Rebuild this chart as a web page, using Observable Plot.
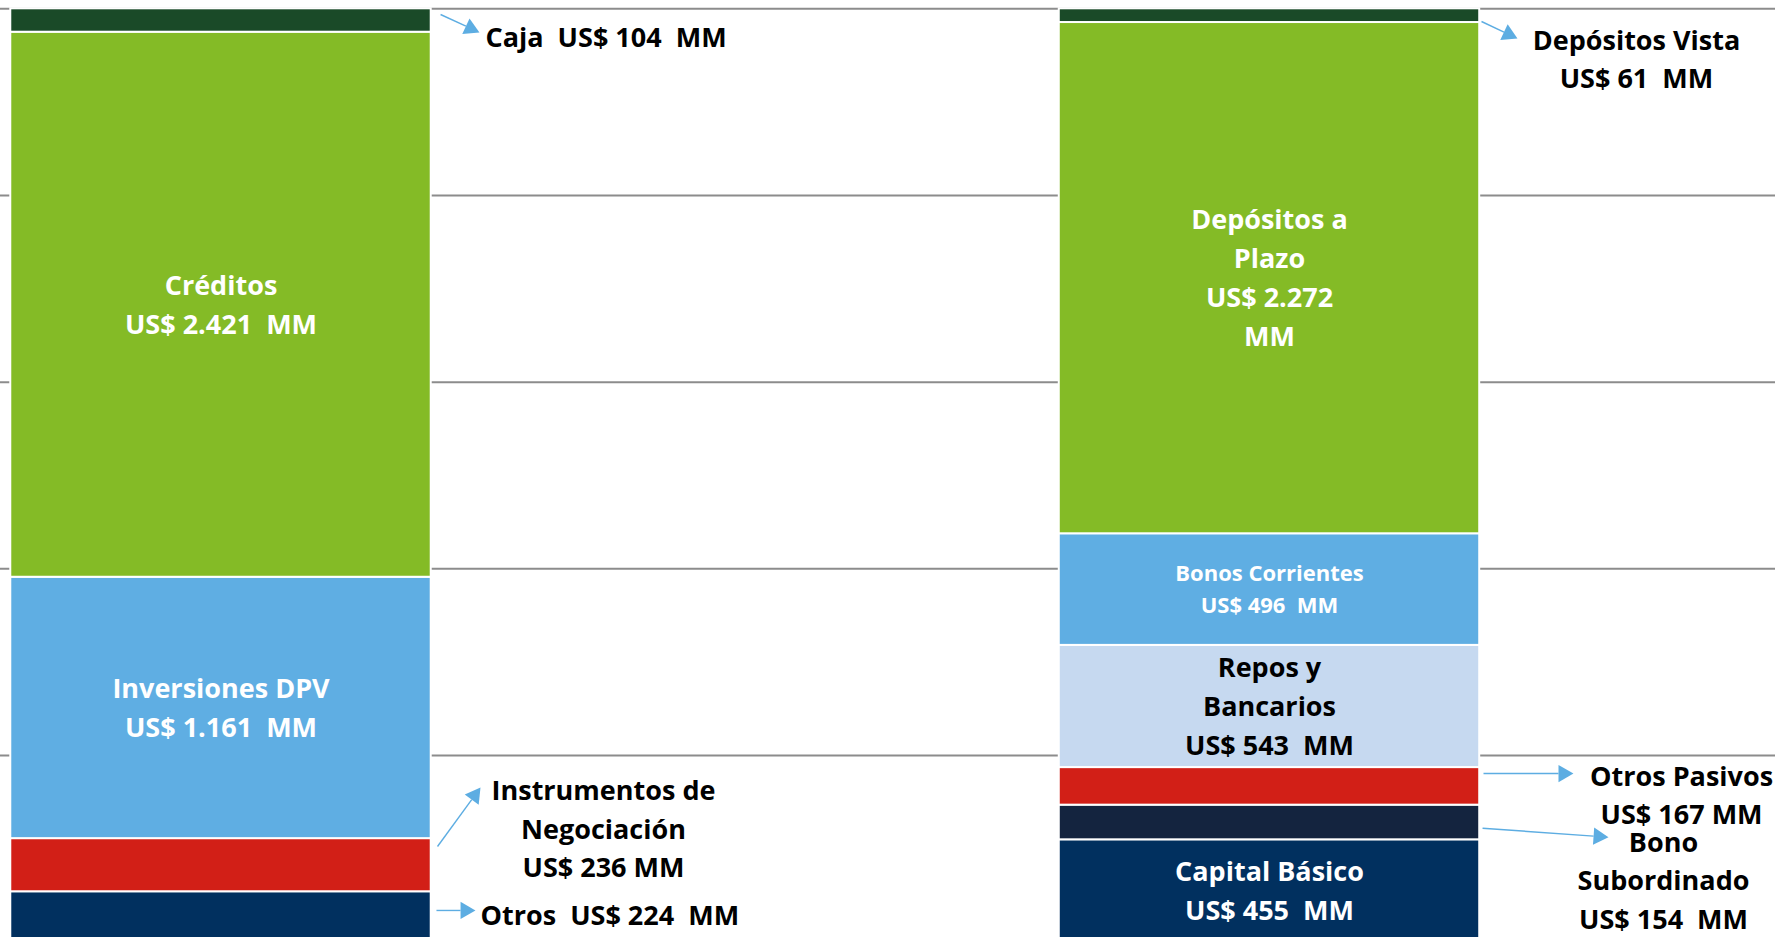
<!DOCTYPE html>
<html>
<head>
<meta charset="utf-8">
<script src="https://cdn.jsdelivr.net/npm/d3@7"></script>
<script src="https://cdn.jsdelivr.net/npm/@observablehq/plot@0.6"></script>
<style>
  html, body { margin: 0; padding: 0; background: #ffffff; overflow: hidden; }
  #chart svg text { white-space: pre; }
</style>
</head>
<body>
<div id="chart"></div>
<script>
// ---------------- data ----------------
const sides = ["Activos", "Pasivos"];

// listed top-to-bottom as they appear in each column
const assetCategories = ["Caja", "Créditos", "Inversiones DPV", "Instrumentos de Negociación", "Otros"];
const assetValues = [104, 2421, 1161, 236, 224];
const assetLabels = [
  "Caja  US$ {v}  MM",
  "Créditos\nUS$ {v}  MM",
  "Inversiones DPV\nUS$ {v}  MM",
  "Instrumentos de\nNegociación\nUS$ {v} MM",
  "Otros  US$ {v}  MM"
];

const liabilityCategories = ["Depósitos Vista", "Depósitos a Plazo", "Bonos Corrientes", "Repos y Bancarios", "Otros Pasivos", "Bono Subordinado", "Capital Básico"];
const liabilityValues = [61, 2272, 496, 543, 167, 154, 455];
const liabilityLabels = [
  "Depósitos Vista\nUS$ {v}  MM",
  "Depósitos a\nPlazo\nUS$ {v}\nMM",
  "Bonos Corrientes\nUS$ {v}  MM",
  "Repos y\nBancarios\nUS$ {v}  MM",
  "Otros Pasivos\nUS$ {v} MM",
  "Bono\nSubordinado\nUS$ {v}  MM",
  "Capital Básico\nUS$ {v}  MM"
];

const gridTicks = [0, 0.2, 0.4, 0.6, 0.8, 1];

// ---------------- styles ----------------
const colors = {
  "Caja": "#1a4a28",
  "Créditos": "#84bb26",
  "Inversiones DPV": "#5faee3",
  "Instrumentos de Negociación": "#d21f17",
  "Otros": "#01305f",
  "Depósitos Vista": "#1a4a28",
  "Depósitos a Plazo": "#84bb26",
  "Bonos Corrientes": "#5faee3",
  "Repos y Bancarios": "#c6d9f0",
  "Otros Pasivos": "#d21f17",
  "Bono Subordinado": "#14243f",
  "Capital Básico": "#01305f"
};
const insideLabels = new Set(["Créditos", "Inversiones DPV", "Depósitos a Plazo", "Bonos Corrientes", "Repos y Bancarios", "Capital Básico"]);
const darkTextLabels = new Set(["Repos y Bancarios"]);
const smallLabels = new Set(["Bonos Corrientes"]);
const arrowColor = "#5dade2";

// callout layout: x in column units (0 = Activos centre, 1 = Pasivos centre), y as share of column total
const callouts = [
  {category: "Caja",                        lx: 0.2523, ly: 0.9693, anchor: "start",  ax1: 0.2094, ay1: 0.9939, ax2: 0.2465, ay2: 0.9746},
  {category: "Instrumentos de Negociación", lx: 0.3648, ly: 0.1207, anchor: "middle", ax1: 0.2065, ay1: 0.1025, ax2: 0.2475, ay2: 0.1657},
  {category: "Otros",                       lx: 0.2475, ly: 0.0286, anchor: "start",  ax1: 0.2055, ay1: 0.0340, ax2: 0.2427, ay2: 0.0340},
  {category: "Depósitos Vista",             lx: 1.3500, ly: 0.9457, anchor: "middle", ax1: 1.2022, ay1: 0.9864, ax2: 1.2365, ay2: 0.9682},
  {category: "Otros Pasivos",               lx: 1.3930, ly: 0.1566, anchor: "middle", ax1: 1.2041, ay1: 0.1807, ax2: 1.2899, ay2: 0.1807},
  {category: "Bono Subordinado",            lx: 1.3758, ly: 0.0654, anchor: "middle", ax1: 1.2032, ay1: 0.1221, ax2: 1.3233, ay2: 0.1125}
];

// ---------------- build ----------------
const fmt = d3.formatLocale({decimal: ",", thousands: ".", grouping: [3], currency: ["US$ ", ""]}).format(",d");

function buildRows(side, pos, cats, vals, labels) {
  // stack from the bottom up, so reverse the top-to-bottom lists
  return cats.map((c, i) => ({
    side, pos, category: c, value: vals[i],
    label: labels[i].replace("{v}", fmt(vals[i]))
  })).reverse();
}
const rows = [
  ...buildRows(sides[0], 0, assetCategories, assetValues, assetLabels),
  ...buildRows(sides[1], 1, liabilityCategories, liabilityValues, liabilityLabels)
];
const labelOf = new Map(rows.map(d => [d.category, d.label]));

const W = 1775, H = 937;
const xRange = [220.5, 1269];
const yRange = [941.7, 8.3];
const HW = 0.2005;           // half bar width in column units
const XPX = xRange[1] - xRange[0];
const YPX = yRange[0] - yRange[1];
const headR = 6.4;
const headY = 0.7776 * headR; // triangle centroid-to-base distance (px)

const arrows = callouts.map(c => {
  const dxp = (c.ax2 - c.ax1) * XPX;
  const dyp = -(c.ay2 - c.ay1) * YPX;
  const len = Math.hypot(dxp, dyp);
  const ux = dxp / len, uy = dyp / len;
  const back = (k) => ({x: c.ax2 - k * ux / XPX, y: c.ay2 + k * uy / YPX});
  const centre = back(2 * headY);
  const base = back(3 * headY);
  return {
    x1: c.ax1, y1: c.ay1, x2: base.x, y2: base.y,
    hx: centre.x, hy: centre.y,
    angle: Math.atan2(dyp, dxp) * 180 / Math.PI + 90
  };
});
const calloutRows = callouts.map(c => ({...c, label: labelOf.get(c.category)}));

const labelFont = 27;
const textShift = -3;

const chart = Plot.plot({
  width: W,
  height: H,
  margin: 0,
  x: {type: "linear", domain: [0, 1], range: xRange, axis: null},
  y: {domain: [0, 1], range: yRange, axis: null},
  color: {type: "identity"},
  style: {fontFamily: "'Open Sans', sans-serif", background: "#ffffff", overflow: "hidden"},
  marks: [
    Plot.ruleY(gridTicks, {stroke: "#8c8c8c", strokeWidth: 2}),
    Plot.rectY(rows, Plot.stackY({
      x1: d => d.pos - HW,
      x2: d => d.pos + HW,
      y: "value",
      offset: "normalize",
      fill: d => colors[d.category],
      stroke: "#ffffff",
      strokeWidth: 2
    })),
    Plot.text(rows, Plot.stackY({
      x: "pos",
      y: "value",
      offset: "normalize",
      text: d => insideLabels.has(d.category) ? d.label : null,
      fill: d => darkTextLabels.has(d.category) ? "#000000" : "#ffffff",
      fontSize: d => smallLabels.has(d.category) ? 22 : labelFont,
      fontWeight: "bold",
      lineHeight: 1.44,
      dy: textShift
    })),
    Plot.link(arrows, {x1: "x1", y1: "y1", x2: "x2", y2: "y2", stroke: arrowColor, strokeWidth: 1.4}),
    Plot.dot(arrows, {x: "hx", y: "hy", symbol: "triangle", r: headR, fill: arrowColor, stroke: null, rotate: "angle"}),
    Plot.text(calloutRows.filter(d => d.anchor === "start"), {
      x: "lx", y: "ly", text: "label", textAnchor: "start",
      fill: "#000000", fontSize: labelFont, fontWeight: "bold", lineHeight: 1.44, dy: textShift
    }),
    Plot.text(calloutRows.filter(d => d.anchor === "middle"), {
      x: "lx", y: "ly", text: "label", textAnchor: "middle",
      fill: "#000000", fontSize: labelFont, fontWeight: "bold", lineHeight: 1.42, dy: textShift
    })
  ]
});
document.getElementById("chart").appendChild(chart);
</script>
</body>
</html>
